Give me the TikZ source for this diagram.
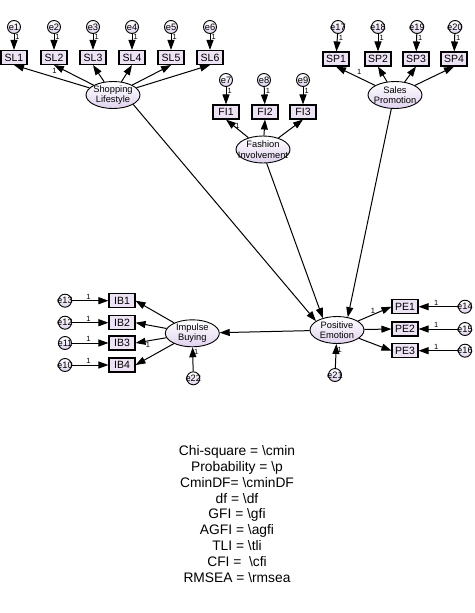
\documentclass[tikz,border=0pt]{standalone}
\usepackage{fontspec}
\setmainfont{Liberation Sans}
\usetikzlibrary{arrows.meta,shapes.geometric}
\definecolor{boxfill}{RGB}{238,226,245}
\definecolor{ovalfill}{RGB}{224,210,238}

\begin{document}
\begin{tikzpicture}[x=1pt,y=-1pt,
  obs/.style={draw,line width=1.1pt,fill=boxfill,minimum width=26pt,minimum height=14pt,inner sep=0pt,font=\fontsize{10.5}{12}\selectfont},
  lat/.style={ellipse,draw,line width=0.9pt,top color=white,bottom color=ovalfill,minimum width=54pt,minimum height=27pt,inner xsep=-10pt,inner ysep=-1.5pt,align=center,font=\fontsize{9.3}{10.5}\selectfont},
  err/.style={circle,draw,line width=0.9pt,top color=white,bottom color=ovalfill,minimum size=13pt,inner sep=-2pt,font=\fontsize{9.3}{9}\selectfont},
  arr/.style={-{Triangle[length=10pt,width=7pt]},line width=1pt},
  one/.style={font=\fontsize{7.5}{8}\selectfont,inner sep=1pt}]
\useasboundingbox (0,0) rectangle (474,613);

%shopping lifestyle
\node[err] (e1) at (14,27) {e1};
\node[err] (e2) at (54,27) {e2};
\node[err] (e3) at (93,27) {e3};
\node[err] (e4) at (132,27) {e4};
\node[err] (e5) at (171,27) {e5};
\node[err] (e6) at (210,27) {e6};
\node[obs] (sl1) at (14,57.5) {SL1};
\node[obs] (sl2) at (54,57.5) {SL2};
\node[obs] (sl3) at (93,57.5) {SL3};
\node[obs] (sl4) at (132,57.5) {SL4};
\node[obs] (sl5) at (171,57.5) {SL5};
\node[obs] (sl6) at (210,57.5) {SL6};
\node[lat] (sl) at (113,95) {Shopping\\Lifestyle};

%fashion involvement
\node[err] (e7) at (226,80) {e7};
\node[err] (e8) at (264,80) {e8};
\node[err] (e9) at (303,80) {e9};
\node[obs] (fi1) at (226,112) {FI1};
\node[obs] (fi2) at (265,112) {FI2};
\node[obs] (fi3) at (303,112) {FI3};
\node[lat] (fi) at (263,149.5) {Fashion\\Involvement};

%sales promotion
\node[err] (e17) at (338,27) {e17};
\node[err] (e18) at (378,27) {e18};
\node[err] (e19) at (417,27) {e19};
\node[err] (e20) at (455,27) {e20};
\node[obs] (sp1) at (336,59) {SP1};
\node[obs] (sp2) at (378,59) {SP2};
\node[obs] (sp3) at (416,59) {SP3};
\node[obs] (sp4) at (454,59) {SP4};
\node[lat] (sp) at (395,95) {Sales\\Promotion};

%impulse buying
\node[err] (e13) at (65,300.7) {e13};
\node[err] (e12) at (65,322.7) {e12};
\node[err] (e11) at (65,343) {e11};
\node[err] (e10) at (65,365) {e10};
\node[obs] (ib1) at (122,300.7) {IB1};
\node[obs] (ib2) at (122,322.7) {IB2};
\node[obs] (ib3) at (122,343) {IB3};
\node[obs] (ib4) at (122,365) {IB4};
\node[lat] (ib) at (192.3,333.3) {Impulse\\Buying};
\node[err] (e22) at (193.3,378.3) {e22};

%positive emotion
\node[lat] (pe) at (337,330) {Positive\\Emotion};
\node[err] (e21) at (335,375) {e21};
\node[obs] (pe1) at (405,306.7) {PE1};
\node[obs] (pe2) at (405,329) {PE2};
\node[obs] (pe3) at (405,350.7) {PE3};
\node[err] (e14) at (465,306.7) {e14};
\node[err] (e15) at (465,329) {e15};
\node[err] (e16) at (465,350.7) {e16};

%errors to indicators
\draw[arr] (e1) -- node[one,pos=0.2,anchor=west] {1} (sl1);
\draw[arr] (e2) -- node[one,pos=0.2,anchor=west] {1} (sl2);
\draw[arr] (e3) -- node[one,pos=0.2,anchor=west] {1} (sl3);
\draw[arr] (e4) -- node[one,pos=0.2,anchor=west] {1} (sl4);
\draw[arr] (e5) -- node[one,pos=0.2,anchor=west] {1} (sl5);
\draw[arr] (e6) -- node[one,pos=0.2,anchor=west] {1} (sl6);
\draw[arr] (e7) -- node[one,pos=0.25,anchor=west] {1} (fi1);
\draw[arr] (e8) -- node[one,pos=0.25,anchor=west] {1} (fi2);
\draw[arr] (e9) -- node[one,pos=0.25,anchor=west] {1} (fi3);
\draw[arr] (e17) -- node[one,pos=0.2,anchor=west] {1} (sp1);
\draw[arr] (e18) -- node[one,pos=0.2,anchor=west] {1} (sp2);
\draw[arr] (e19) -- node[one,pos=0.2,anchor=west] {1} (sp3);
\draw[arr] (e20) -- node[one,pos=0.2,anchor=west] {1} (sp4);
\draw[arr] (e13) -- node[one,pos=0.45,above] {1} (ib1);
\draw[arr] (e12) -- node[one,pos=0.45,above] {1} (ib2);
\draw[arr] (e11) -- node[one,pos=0.45,above] {1} (ib3);
\draw[arr] (e10) -- node[one,pos=0.45,above] {1} (ib4);
\draw[arr] (e14) -- node[one,pos=0.55,above] {1} (pe1);
\draw[arr] (e15) -- node[one,pos=0.55,above] {1} (pe2);
\draw[arr] (e16) -- node[one,pos=0.55,above] {1} (pe3);
\draw[arr] (e22) -- node[one,pos=0.8,right] {1} (ib);
\draw[arr] (e21) -- node[one,pos=0.75,right] {1} (pe);

%loadings
\draw[arr] (sl) -- (sl1.south);
\draw[arr] (sl) -- node[one,pos=0.9,anchor=north east] {1} (sl2.south);
\draw[arr] (sl) -- (sl3.south);
\draw[arr] (sl) -- (sl4.south);
\draw[arr] (sl) -- (sl5.south);
\draw[arr] (sl) -- (sl6.south);
\draw[arr] (fi) -- node[one,pos=0.65,anchor=west] {1} (fi1.south);
\draw[arr] (fi) -- (fi2.south);
\draw[arr] (fi) -- (fi3.south);
\draw[arr] (sp) -- node[one,pos=0.5,anchor=south west] {1} (sp1.south);
\draw[arr] (sp) -- (sp2.south);
\draw[arr] (sp) -- (sp3.south);
\draw[arr] (sp) -- (sp4.south);
\draw[arr] (ib) -- (ib1.east);
\draw[arr] (ib) -- (ib2.east);
\draw[arr] (ib) -- node[one,pos=0.6,anchor=north] {1} (ib3.east);
\draw[arr] (ib) -- (ib4.east);
\draw[arr] (pe) -- node[one,pos=0.45,anchor=south] {1} (pe1.west);
\draw[arr] (pe) -- (pe2.west);
\draw[arr] (pe) -- (pe3.west);

%structural paths
\draw[arr] (sl.-25) -- (pe.157);
\draw[arr] (fi.-75) -- (pe.140);
\draw[arr] (sp.-105) -- (pe.50);
\draw[arr] (pe) -- (ib);

%fit indices
\node[align=center,font=\fontsize{13.8}{15.8}\selectfont] (fit) at (237,514) {Chi-square = \textbackslash cmin\\
Probability = \textbackslash p\\
CminDF= \textbackslash cminDF\\
df = \textbackslash df\\
GFI = \textbackslash gfi\\
AGFI = \textbackslash agfi\\
TLI = \textbackslash tli\\
CFI = \ \textbackslash cfi\\
RMSEA = \textbackslash rmsea};

\end{tikzpicture}
\end{document}
